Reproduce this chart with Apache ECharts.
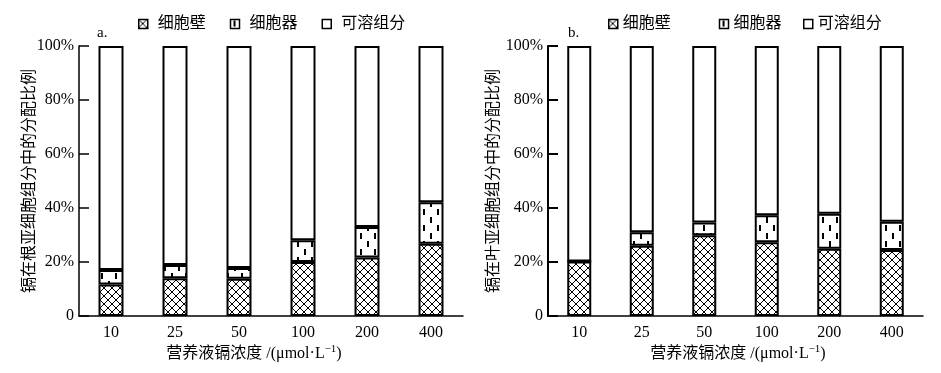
<!DOCTYPE html>
<html>
<head>
<meta charset="utf-8">
<script src="https://cdn.jsdelivr.net/npm/echarts@6/dist/echarts.min.js"></script>
<style>
  html, body { margin: 0; padding: 0; background: #fff; }
  #chart { width: 941px; height: 373px; }
</style>
</head>
<body>
<div id="chart"></div>
<script>
// 营养液镉浓度 (μmol·L-1)
const categories = ['10', '25', '50', '100', '200', '400']
const yTicks = [0, 20, 40, 60, 80, 100]

// a. 根
const rootWall = [11.7, 14.0, 13.8, 20.0, 21.7, 26.8]
const rootOrganelle = [5.3, 4.9, 4.0, 8.1, 11.3, 15.3]
const rootSoluble = [83.0, 81.1, 82.2, 71.9, 67.0, 57.9]

// b. 叶
const leafWall = [20.2, 26.0, 29.9, 27.3, 24.9, 24.4]
const leafOrganelle = [0, 5.0, 4.7, 10.0, 13.0, 10.5]
const leafSoluble = [79.8, 69.0, 65.4, 62.7, 62.1, 65.1]

const names = ['细胞壁', '细胞器', '可溶组分']
const FONT = "'Liberation Serif', 'Noto Sans CJK SC', serif"

// 网格交叉填充
function crossPattern() {
  const c = document.createElement('canvas')
  c.width = 8
  c.height = 8
  const ctx = c.getContext('2d')
  ctx.fillStyle = '#fff'
  ctx.fillRect(0, 0, 8, 8)
  ctx.strokeStyle = '#000'
  ctx.lineWidth = 1
  ctx.beginPath()
  ctx.moveTo(-1, -1); ctx.lineTo(9, 9)
  ctx.moveTo(9, -1); ctx.lineTo(-1, 9)
  ctx.stroke()
  return { image: c, repeat: 'repeat' }
}

// 竖向短划线填充
function dashPattern() {
  const c = document.createElement('canvas')
  c.width = 14
  c.height = 16
  const ctx = c.getContext('2d')
  ctx.fillStyle = '#fff'
  ctx.fillRect(0, 0, 14, 16)
  ctx.fillStyle = '#000'
  ctx.fillRect(3, 1, 2, 6)
  ctx.fillRect(10, 9, 2, 6)
  return { image: c, repeat: 'repeat' }
}

const fills = [crossPattern(), dashPattern(), '#fff']

function makeAxes(idx, yName, thick) {
  const x = {
    type: 'category',
    gridIndex: idx,
    data: categories,
    axisLine: { lineStyle: { color: '#000', width: 1.5 } },
    axisTick: { inside: true, length: 6, lineStyle: { color: '#000', width: 1 } },
    axisLabel: { color: '#000', fontFamily: FONT, fontSize: 16, margin: 9 }
  }
  const y = {
    type: 'value',
    gridIndex: idx,
    min: yTicks[0],
    max: yTicks[yTicks.length - 1],
    interval: 20,
    name: yName,
    nameLocation: 'middle',
    nameRotate: 90,
    nameMoveOverlap: false,
    nameGap: idx === 0 ? 41 : 46,
    nameTextStyle: { color: '#000', fontFamily: FONT, fontSize: 16 },
    axisLine: { show: true, lineStyle: { color: '#000', width: thick } },
    axisTick: { show: true, inside: true, length: 10, lineStyle: { color: '#000', width: thick } },
    splitLine: { show: false },
    axisLabel: {
      color: '#000', fontFamily: FONT, fontSize: 16, margin: 5,
      formatter: (v) => (v === 0 ? '0' : v + '%')
    }
  }
  return [x, y]
}

const [xa, ya] = makeAxes(0, '镉在根亚细胞组分中的分配比例', 1.5)
const [xb, yb] = makeAxes(1, '镉在叶亚细胞组分中的分配比例', 2)

function makeSeries(idx, data, barWidth) {
  return data.map((arr, i) => ({
    name: names[i],
    type: 'bar',
    stack: 'panel' + idx,
    xAxisIndex: idx,
    yAxisIndex: idx,
    barWidth: barWidth,
    data: arr,
    itemStyle: { color: fills[i], borderColor: '#000', borderWidth: 2 },
    emphasis: { disabled: true }
  }))
}

const legendBase = {
  top: 16,
  padding: 0,
  itemWidth: 9,
  itemHeight: 9,
  icon: 'rect',
  textStyle: { color: '#000', fontFamily: FONT, fontSize: 16 },
  itemStyle: { borderColor: '#000', borderWidth: 1.5 },
  selectedMode: false
}

const axisTitle = '营养液镉浓度 /(μmol·L{sup|−1})'
const titleRich = {
  sup: { fontFamily: FONT, fontSize: 11, verticalAlign: 'top', lineHeight: 12, fill: '#000' }
}

const option = {
  animation: false,
  grid: [
    { left: 79, top: 46, width: 384, height: 270 },
    { left: 548, top: 46, width: 375, height: 270 }
  ],
  legend: [
    {
      ...legendBase, left: 138, itemGap: 24, data: names,
      textStyle: { ...legendBase.textStyle, padding: [0, 0, 0, 5] }
    },
    { ...legendBase, left: 608, itemGap: 48, data: names.slice(0, 2) },
    { ...legendBase, left: 803, data: names.slice(2) }
  ],
  xAxis: [xa, xb],
  yAxis: [ya, yb],
  graphic: [
    { type: 'text', x: 97, y: 26, style: { text: 'a.', font: "15px 'Liberation Serif'", fill: '#000' } },
    { type: 'text', x: 568, y: 26, style: { text: 'b.', font: "15px 'Liberation Serif'", fill: '#000' } },
    {
      type: 'text', x: 254, y: 354,
      style: {
        text: axisTitle, fontFamily: FONT, fontSize: 16, fill: '#000',
        align: 'center', verticalAlign: 'middle', lineHeight: 20, rich: titleRich
      }
    },
    {
      type: 'text', x: 738, y: 354,
      style: {
        text: axisTitle, fontFamily: FONT, fontSize: 16, fill: '#000',
        align: 'center', verticalAlign: 'middle', lineHeight: 20, rich: titleRich
      }
    }
  ],
  series: [
    ...makeSeries(0, [rootWall, rootOrganelle, rootSoluble], 25),
    ...makeSeries(1, [leafWall, leafOrganelle, leafSoluble], 24)
  ]
}

const chart = echarts.init(document.getElementById('chart'))
chart.setOption(option)
</script>
</body>
</html>
